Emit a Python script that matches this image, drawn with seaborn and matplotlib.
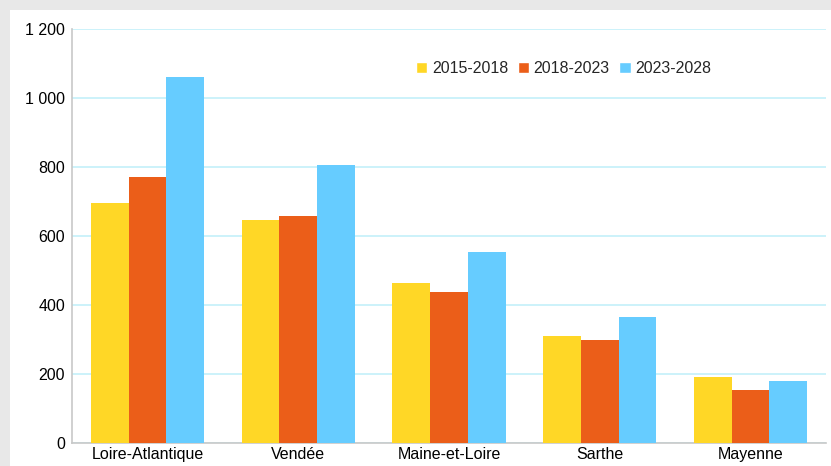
import pandas as pd
import seaborn as sns
import matplotlib.pyplot as plt
from matplotlib.patches import Rectangle
from matplotlib.ticker import FuncFormatter

# ------------------------ Data ------------------------
departements = ['Loire-Atlantique', 'Vendée', 'Maine-et-Loire', 'Sarthe', 'Mayenne']
periodes = ['2015-2018', '2018-2023', '2023-2028']
v_2015_2018 = [696, 646, 464, 310, 191]
v_2018_2023 = [771, 658, 438, 299, 154]
v_2023_2028 = [1061, 806, 554, 365, 180]
couleurs = ['#FFD726', '#EB5E19', '#66CCFF']

df = pd.DataFrame({
    'departement': departements * 3,
    'periode': [p for p in periodes for _ in departements],
    'valeur': v_2015_2018 + v_2018_2023 + v_2023_2028,
})

# ------------------------ Style ------------------------
sns.set_theme(style='white')
plt.rcParams['font.family'] = ['Liberation Sans', 'DejaVu Sans']

fig = plt.figure(figsize=(8.31, 4.66), dpi=100, facecolor='#e8e8e8')
fig.patches.append(Rectangle((10 / 831, 0), 821 / 831, 456 / 466, transform=fig.transFigure,
                             facecolor='white', edgecolor='none', zorder=-5))
ax = fig.add_axes([72 / 831, 23 / 466, 754 / 831, 414 / 466])
ax.set_zorder(2)
ax.set_facecolor('none')

sns.barplot(data=df, x='departement', y='valeur', hue='periode', hue_order=periodes,
            palette=couleurs, width=0.75, saturation=1, errorbar=None, ax=ax, zorder=3,
            linewidth=0)

ax.set_ylim(0, 1200)
ax.set_yticks(range(0, 1201, 200))
ax.yaxis.set_major_formatter(FuncFormatter(lambda v, _: f'{int(v):,}'.replace(',', ' ')))
ax.grid(axis='y', color='#c4f0fa', linewidth=1.2, zorder=0)
ax.set_axisbelow(True)
ax.set_xlabel('')
ax.set_ylabel('')
ax.tick_params(axis='both', labelsize=11.5, colors='#000000', length=0, pad=3)
ax.tick_params(axis='y', pad=5)

for side in ['top', 'right']:
    ax.spines[side].set_visible(False)
for side in ['left', 'bottom']:
    ax.spines[side].set_color('#c8c8c8')
    ax.spines[side].set_linewidth(1.2)

handles = [Rectangle((0, 0), 1, 1, facecolor=c) for c in couleurs]
ax.legend(handles, periodes, loc='center', bbox_to_anchor=(0.652, 0.905), ncol=3, frameon=False,
          fontsize=11.5, handlelength=0.7, handleheight=0.7, handletextpad=0.3, columnspacing=0.6)

plt.savefig('out.png', dpi=100, facecolor=fig.get_facecolor())
